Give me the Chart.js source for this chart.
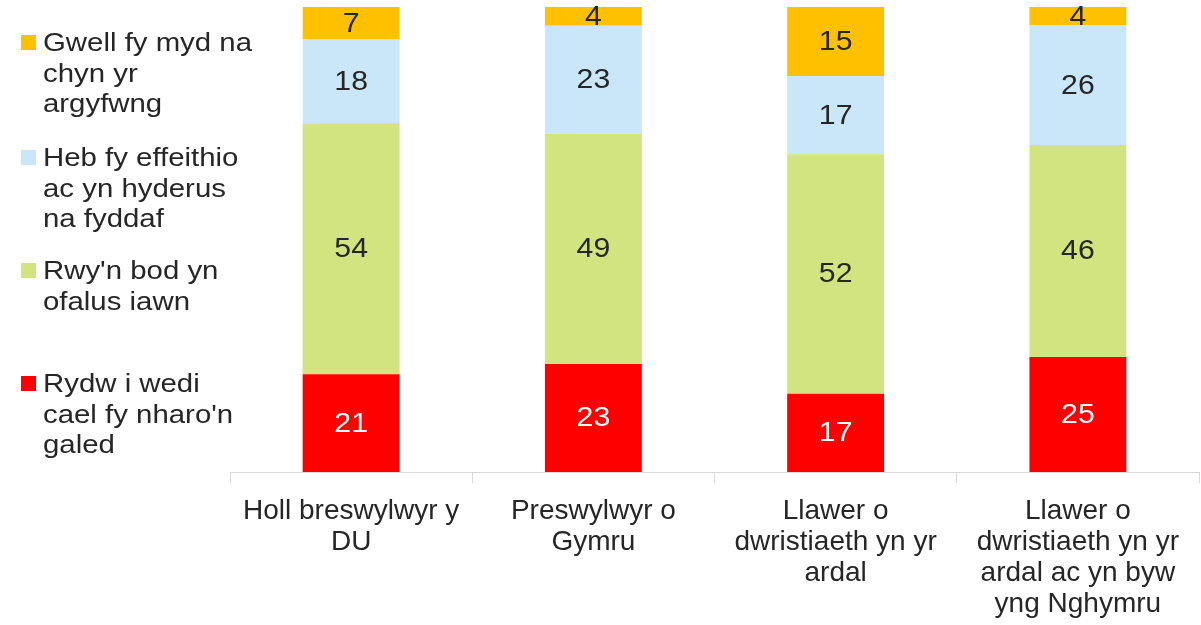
<!DOCTYPE html>
<html lang="cy">
<head>
  <meta charset="UTF-8">
  <title>Siart</title>
  <script src="https://cdn.jsdelivr.net/npm/chart.js"></script>
  <style>
    body { margin: 0; background: #fff; font-family: "Liberation Sans", Arial, sans-serif; }
    #wrap { position: relative; width: 1201px; height: 625px; }
    .leg { position: absolute; left: 21px; font-size: 26px; line-height: 30.5px; color: #262626; }
    .leg span.box { position: absolute; left: 0; top: 8px; width: 15px; height: 15px; }
    .leg div.txt { margin-left: 22px; transform: scaleX(1.13); transform-origin: left top; white-space: nowrap; }
  </style>
</head>
<body>
  <div id="wrap">
    <canvas id="siart" width="1201" height="625"></canvas>
  </div>

  <script>
    // categorïau
    const categories = [
      ['Holl breswylwyr y', 'DU'],
      ['Preswylwyr o', 'Gymru'],
      ['Llawer o', 'dwristiaeth yn yr', 'ardal'],
      ['Llawer o', 'dwristiaeth yn yr', 'ardal ac yn byw', 'yng Nghymru']
    ];

    // cyfresi (gwerthoedd a ddangosir)
    const caledVals = [21, 23, 17, 25];
    const gofalusVals = [54, 49, 52, 46];
    const hyderusVals = [18, 23, 17, 26];
    const gwellVals = [7, 4, 15, 4];

    const seriesNames = [
      ['Rydw i wedi', "cael fy nharo'n", 'galed'],
      ["Rwy'n bod yn", 'ofalus iawn'],
      ['Heb fy effeithio', 'ac yn hyderus', 'na fyddaf'],
      ['Gwell fy myd na', 'chyn yr', 'argyfwng']
    ];
    const seriesColors = ['#FF0000', '#D1E47F', '#C9E7F8', '#FFC000'];
    const legendTops = [368, 255, 142, 27];

    const raw = [caledVals, gofalusVals, hyderusVals, gwellVals];
    // 100% stacked: normalise each column
    const totals = categories.map((c, i) => raw.reduce((s, r) => s + r[i], 0));

    const datasets = raw.map((vals, k) => ({
      label: seriesNames[k].join(' '),
      data: vals.map((v, i) => v / totals[i] * 100),
      rawVals: vals,
      backgroundColor: seriesColors[k],
      borderWidth: 0,
      barPercentage: 0.8,
      categoryPercentage: 0.5
    }));

    // build html legend
    const wrap = document.getElementById('wrap');
    seriesNames.forEach((lines, k) => {
      const d = document.createElement('div');
      d.className = 'leg';
      d.style.top = legendTops[k] + 'px';
      d.innerHTML = '<span class="box" style="background:' + seriesColors[k] + '"></span><div class="txt">' + lines.join('<br>') + '</div>';
      wrap.appendChild(d);
    });

    const valueLabels = {
      id: 'valueLabels',
      afterDatasetsDraw(chart) {
        const ctx = chart.ctx;
        chart.data.datasets.forEach((ds, k) => {
          chart.getDatasetMeta(k).data.forEach((bar, i) => {
            ctx.save();
            ctx.font = '27px "Liberation Sans", Arial, sans-serif';
            ctx.textAlign = 'center';
            ctx.textBaseline = 'middle';
            ctx.fillStyle = k === 0 ? '#ffffff' : '#262626';
            ctx.translate(bar.x, (bar.y + bar.base) / 2 + 1);
            ctx.scale(1.12, 1);
            ctx.fillText(String(ds.rawVals[i]), 0, 0);
            ctx.restore();
          });
        });
      }
    };

    new Chart(document.getElementById('siart'), {
      type: 'bar',
      data: { labels: categories, datasets: datasets },
      options: {
        responsive: false,
        animation: false,
        layout: { padding: { left: 230, right: 2, top: 7, bottom: 0 } },
        plugins: { legend: { display: false }, tooltip: { enabled: false } },
        scales: {
          x: {
            stacked: true,
            grid: { drawOnChartArea: false, color: '#D9D9D9', tickLength: 11, lineWidth: 1 },
            border: { color: '#D9D9D9', width: 1 },
            ticks: {
              color: '#262626',
              font: { family: '"Liberation Sans", Arial, sans-serif', size: 28, lineHeight: '31px' },
              maxRotation: 0,
              autoSkip: false,
              padding: 13
            },
            afterFit(scale) { scale.height = 153; }
          },
          y: {
            stacked: true,
            display: false,
            min: 0,
            max: 100
          }
        }
      },
      plugins: [valueLabels]
    });
  </script>
</body>
</html>
